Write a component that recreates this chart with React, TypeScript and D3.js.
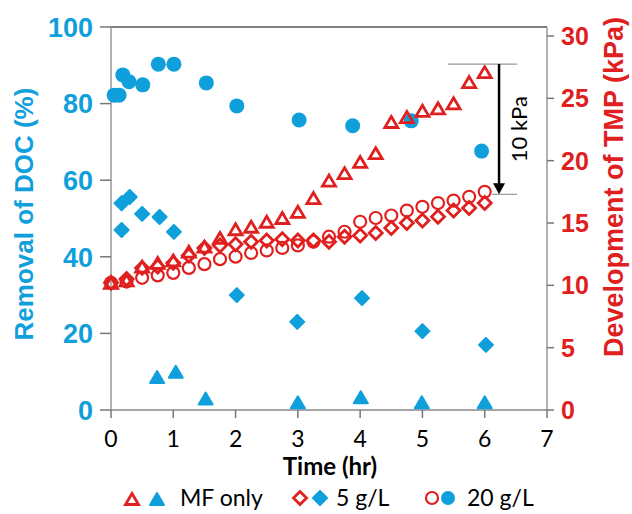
import React from 'react';
import * as d3 from 'd3';

// removal of DOC (%), left axis
const mfTime = [0.74, 1.04, 1.52, 3.0, 4.01, 4.99, 6.0];
const mfRemoval = [8.6, 10, 3, 2, 3.3, 2, 2];
const g5Time = [0.17, 0.17, 0.3, 0.5, 0.78, 1.01, 2.02, 2.99, 4.03, 5.0, 6.02];
const g5Removal = [47, 54, 55.6, 51.2, 50.4, 46.5, 30, 23, 29.2, 20.6, 17];
const g20Time = [0.05, 0.13, 0.19, 0.29, 0.51, 0.76, 1.01, 1.53, 2.02, 3.02, 3.88, 4.82, 5.95];
const g20Removal = [82.2, 82.2, 87.5, 85.7, 84.9, 90.3, 90.3, 85.4, 79.4, 75.7, 74.2, 75.5, 67.6];

// TMP (kPa), right axis
const tmpTime = [0, 0.25, 0.5, 0.75, 1, 1.25, 1.5, 1.75, 2, 2.25, 2.5, 2.75, 3, 3.25, 3.5, 3.75, 4, 4.25, 4.5, 4.75, 5, 5.25, 5.5, 5.75, 6];
const mfTmp = [10.2, 10.4, 11.5, 11.8, 12.0, 12.7, 13.1, 13.8, 14.5, 14.7, 15.1, 15.4, 15.9, 17.0, 18.4, 19.0, 19.9, 20.6, 23.1, 23.5, 24.0, 24.2, 24.6, 26.3, 27.1];
const g5Tmp = [10.2, 10.5, 11.4, 11.5, 11.8, 12.4, 13.0, 13.2, 13.3, 13.5, 13.6, 13.7, 13.6, 13.6, 13.5, 13.9, 14.0, 14.2, 14.6, 15.0, 15.2, 15.5, 16.0, 16.2, 16.6];
const g20Tmp = [10.2, 10.3, 10.6, 10.8, 11.0, 11.4, 11.7, 12.1, 12.3, 12.6, 12.8, 13.0, 13.2, 13.5, 13.9, 14.3, 15.1, 15.4, 15.6, 16.0, 16.3, 16.6, 16.8, 17.1, 17.5];

const xTicks = [0, 1, 2, 3, 4, 5, 6, 7];
const leftTicks = [0, 20, 40, 60, 80, 100];
const rightTicks = [0, 5, 10, 15, 20, 25, 30];
// 10 kPa bracket (kPa / hr)
const bracketKpa = [27.75, 17.3];
const bracketTime = [5.41, 6.12, 6.52, 6.23];

const BLUE = '#0FA0DC';
const RED = '#E0201F';
const NARROW = "'Liberation Sans Narrow', 'Arial Narrow', sans-serif";
const BODY = "Lato, 'Open Sans', sans-serif";

const tri = (w: number, h: number) => `M0,${-h / 2}L${w / 2},${h / 2}L${-w / 2},${h / 2}Z`;
const dia = (r: number) => `M0,${-r}L${r},0L0,${r}L${-r},0Z`;

const App = () => {
  const width = 632, height = 514;
  const x = d3.scaleLinear().domain([0, 7]).range([111, 547]);
  const yL = d3.scaleLinear().domain([0, 100]).range([410, 27]);
  const yR = d3.scaleLinear().domain([0, 30]).range([410, 36]);

  const blueMarks = (ts: number[], vs: number[], shape: string) =>
    ts.map((t, i) => (
      shape === 'c'
        ? <circle key={i} cx={x(t)} cy={yL(vs[i])} r={7.5} fill={BLUE} />
        : <path key={i} d={shape === 'd' ? dia(7) : tri(14, 12)} transform={`translate(${x(t)},${yL(vs[i])})`}
            fill={BLUE} stroke={BLUE} strokeWidth={2} strokeLinejoin="round" />
    ));

  const redMarks = (vs: number[], shape: string) =>
    tmpTime.map((t, i) => (
      shape === 'c'
        ? <circle key={i} cx={x(t)} cy={yR(vs[i])} r={6} fill="none" stroke={RED} strokeWidth={2.2} />
        : <path key={i} d={shape === 'd' ? dia(6.5) : tri(13, 11)} transform={`translate(${x(t)},${yR(vs[i])})`}
            fill="none" stroke={RED} strokeWidth={2.8} />
    ));

  return (
    <svg width={width} height={height} style={{ position: 'absolute', left: 0, top: 0, background: '#fff' }}>
      {/* frame */}
      <line x1={111} x2={547} y1={27} y2={27} stroke="#555" strokeWidth={1.5} />
      <line x1={111} x2={111} y1={27} y2={410} stroke="#999" strokeWidth={1.5} />
      <line x1={547} x2={547} y1={27} y2={410} stroke="#999" strokeWidth={1.5} />
      <line x1={111} x2={547} y1={410} y2={410} stroke="#888" strokeWidth={1.5} />

      {/* x axis */}
      {xTicks.map(t => (
        <g key={t}>
          <line x1={x(t)} x2={x(t)} y1={410} y2={418} stroke="#777" strokeWidth={1.5} />
          <text x={x(t)} y={447} textAnchor="middle" fontFamily={BODY} fontSize={23}>{t}</text>
        </g>
      ))}
      <text x={330} y={475} textAnchor="middle" fontFamily={BODY} fontWeight="bold" fontSize={24}>Time (hr)</text>

      {/* left axis */}
      {leftTicks.map(v => (
        <g key={v}>
          <line x1={100} x2={111} y1={yL(v)} y2={yL(v)} stroke="#777" strokeWidth={1.5} />
          <text x={93} y={yL(v)} dy="0.36em" textAnchor="end" fontFamily={NARROW} fontWeight="bold" fontSize={27} fill={BLUE}>{v}</text>
        </g>
      ))}
      <text transform="translate(33,214) rotate(-90)" textAnchor="middle" fontFamily={NARROW} fontWeight="bold" fontSize={26} fill={BLUE}>Removal of DOC (%)</text>

      {/* right axis */}
      {rightTicks.map(v => (
        <g key={v}>
          <line x1={547} x2={554} y1={yR(v)} y2={yR(v)} stroke="#777" strokeWidth={1.5} />
          <text x={561} y={yR(v)} dy="0.36em" fontFamily={NARROW} fontWeight="bold" fontSize={25} fill={RED}>{v}</text>
        </g>
      ))}
      <text transform="translate(623,187) rotate(-90)" textAnchor="middle" fontFamily={NARROW} fontWeight="bold" fontSize={27} fill={RED}>Development of TMP (kPa)</text>

      {/* removal series */}
      {blueMarks(g20Time, g20Removal, 'c')}
      {blueMarks(g5Time, g5Removal, 'd')}
      {blueMarks(mfTime, mfRemoval, 't')}

      {/* TMP series */}
      {redMarks(g20Tmp, 'c')}
      {redMarks(g5Tmp, 'd')}
      {redMarks(mfTmp, 't')}

      {/* 10 kPa bracket */}
      <line x1={x(bracketTime[0])} x2={x(bracketTime[2])} y1={yR(bracketKpa[0])} y2={yR(bracketKpa[0])} stroke="#999" strokeWidth={1.2} />
      <line x1={x(bracketTime[1])} x2={x(bracketTime[2])} y1={yR(bracketKpa[1])} y2={yR(bracketKpa[1])} stroke="#999" strokeWidth={1.2} />
      <line x1={x(bracketTime[3])} x2={x(bracketTime[3])} y1={yR(bracketKpa[0])} y2={yR(bracketKpa[1]) - 8} stroke="#000" strokeWidth={2.5} />
      <path d={`M${x(bracketTime[3]) - 6},${yR(bracketKpa[1]) - 11}L${x(bracketTime[3]) + 6},${yR(bracketKpa[1]) - 11}L${x(bracketTime[3])},${yR(bracketKpa[1])}Z`} fill="#000" />
      <text transform={`translate(527,${yR((bracketKpa[0] + bracketKpa[1]) / 2)}) rotate(-90)`} textAnchor="middle" fontFamily={BODY} fontSize={22}>10 kPa</text>

      {/* legend */}
      <g fontFamily={BODY} fontSize={23}>
        <path d={tri(13, 11)} transform="translate(132,499)" fill="none" stroke={RED} strokeWidth={2.8} />
        <path d={tri(14, 12)} transform="translate(157,499)" fill={BLUE} stroke={BLUE} strokeWidth={2} strokeLinejoin="round" />
        <text x={180} y={506}>MF only</text>
        <path d={dia(6.5)} transform="translate(300,498)" fill="none" stroke={RED} strokeWidth={2.8} />
        <path d={dia(7)} transform="translate(320,498)" fill={BLUE} stroke={BLUE} strokeWidth={2} strokeLinejoin="round" />
        <text x={336} y={506}>5 g/L</text>
        <circle cx={432} cy={498} r={6} fill="none" stroke={RED} strokeWidth={2.2} />
        <circle cx={448} cy={498} r={7} fill={BLUE} />
        <text x={467} y={506}>20 g/L</text>
      </g>
    </svg>
  );
};

export default App;
